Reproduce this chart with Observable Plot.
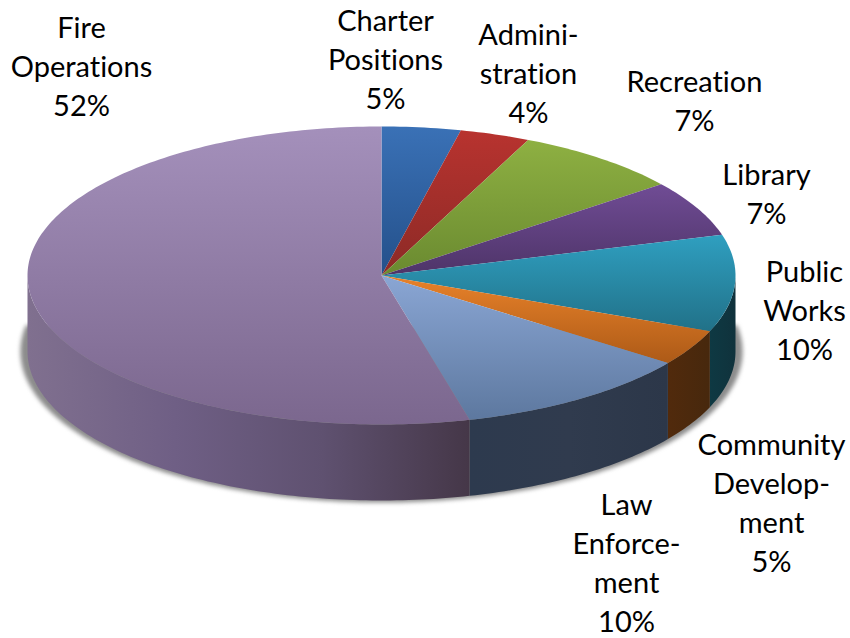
<!DOCTYPE html>
<html>
<head>
<meta charset="utf-8">
<script src="https://cdn.jsdelivr.net/npm/d3@7"></script>
<script src="https://cdn.jsdelivr.net/npm/@observablehq/plot@0.6"></script>
<style>html,body{margin:0;padding:0;background:#fff}svg{display:block}svg text{font-variant-ligatures:none}</style>
</head>
<body>
<div id="chart"></div>
<script>
// Categories, clockwise from 12 o'clock
const categories = ["Charter Positions","Administration","Recreation","Library","Public Works","Community Development","Law Enforcement","Fire Operations"];
// Percentages printed on the chart
const labelled = [5,4,7,7,10,5,10,52];
// Slice sizes as drawn (percent of the ellipse sweep)
const drawnShare = [3.6,3.2,7.7,6.1,10.5,3.9,11.0,54.0];
// Wrapped label text
const labelLines = [["Charter","Positions"],["Admini-","stration"],["Recreation"],["Library"],["Public","Works"],["Community","Develop-","ment"],["Law","Enforce-","ment"],["Fire","Operations"]];

// Layout (pixels)
const W = 850, H = 638, CX = 381, CY = 275, RX = 354, RY = 149, DEPTH = 76;
const labelAnchor = [[385,57],[528,71],[694,98.5],[766,191.5],[804,308.5],[771,500.5],[626,560.5],[81,64]];
const topColors = [["#3a71b6","#24508a"],["#b8332f","#8c2a26"],["#8eb042","#6a8a30"],["#704c95","#4e3468"],["#2f9fc0","#217188"],["#e8822a","#ad5a17"],["#8aa6d4","#5d789f"],["#a490bb","#7b678e"]];
const sideColors = [null,null,null,null,["#0e3943","#10323c"],["#512a0c","#47280d"],["#2d3a4e","#303b4e","#2c3749"],["#80708f","#6f5f85","#5f5170","#453748"]];
const shadowColor = "#8c8c8c";

const ux = px => (px - CX) / RX, uy = py => (CY - py) / RY;
const dz = DEPTH / RY;
const pt = deg => [Math.sin(deg * Math.PI / 180), Math.cos(deg * Math.PI / 180)];
const arc = (a, b) => d3.range(0, 1 + 1e-9, Math.max(0.005, 1 / Math.max(2, Math.ceil(Math.abs(b - a))))).map(f => pt(a + (b - a) * f));

// Sweep limits for each slice
const total = d3.sum(drawnShare);
let acc = 0;
const slices = categories.map((name, i) => {
  const a = acc / total * 360; acc += drawnShare[i]; const b = acc / total * 360;
  return {name, i, a, b};
});

const topPoly = s => [[0,0], ...arc(s.a, s.b)].map(([x,y]) => ({x,y}));
const sidePoly = s => {
  const a = Math.max(s.a, 90), b = Math.min(s.b, 270);
  if (b <= a) return null;
  const e = arc(a, b);
  return [...e.map(([x,y]) => ({x,y})), ...e.slice().reverse().map(([x,y]) => ({x, y: y - dz}))];
};
const shadowPoly = arc(80, 280).map(([x,y]) => ({x: x * 1.02, y: y * 1.014 - dz}));

function gradient(defs, id, colors, horizontal) {
  const g = defs.append("linearGradient").attr("id", id)
    .attr("x1", 0).attr("y1", 0).attr("x2", horizontal ? 1 : 0).attr("y2", horizontal ? 0 : 1);
  colors.forEach((c, k) => g.append("stop").attr("offset", k / (colors.length - 1)).attr("stop-color", c));
}
const defsMark = () => {
  const defs = d3.create("svg:defs");
  topColors.forEach((c, i) => gradient(defs, "top" + i, c, false));
  sideColors.forEach((c, i) => c && gradient(defs, "side" + i, c, true));
  return defs.node();
};

const labelRows = labelLines.map((lines, i) => ({
  text: [...lines, labelled[i] + "%"].join("\n"),
  x: ux(labelAnchor[i][0]), y: uy(labelAnchor[i][1])
}));

const chart = Plot.plot({
  width: W, height: H, margin: 0,
  style: {background: "#fff", fontFamily: "Lato, sans-serif"},
  x: {domain: [ux(0), ux(W)], range: [0, W], axis: null},
  y: {domain: [uy(0), uy(H)], range: [0, H], axis: null},
  marks: [
    defsMark,
    Plot.line(shadowPoly, {x: "x", y: "y", fill: shadowColor, stroke: "none", imageFilter: "blur(2px)"}),
    ...slices.filter(sidePoly).map(s => Plot.line(sidePoly(s), {x: "x", y: "y", fill: `url(#side${s.i})`, stroke: "none"})),
    ...slices.map(s => Plot.line(topPoly(s), {x: "x", y: "y", fill: `url(#top${s.i})`, stroke: "none"})),
    Plot.text(labelRows, {x: "x", y: "y", text: "text", fontSize: 29, lineHeight: 1.345, fill: "#000", textAnchor: "middle", lineAnchor: "middle"})
  ]
});
document.getElementById("chart").appendChild(chart);
</script>
</body>
</html>
